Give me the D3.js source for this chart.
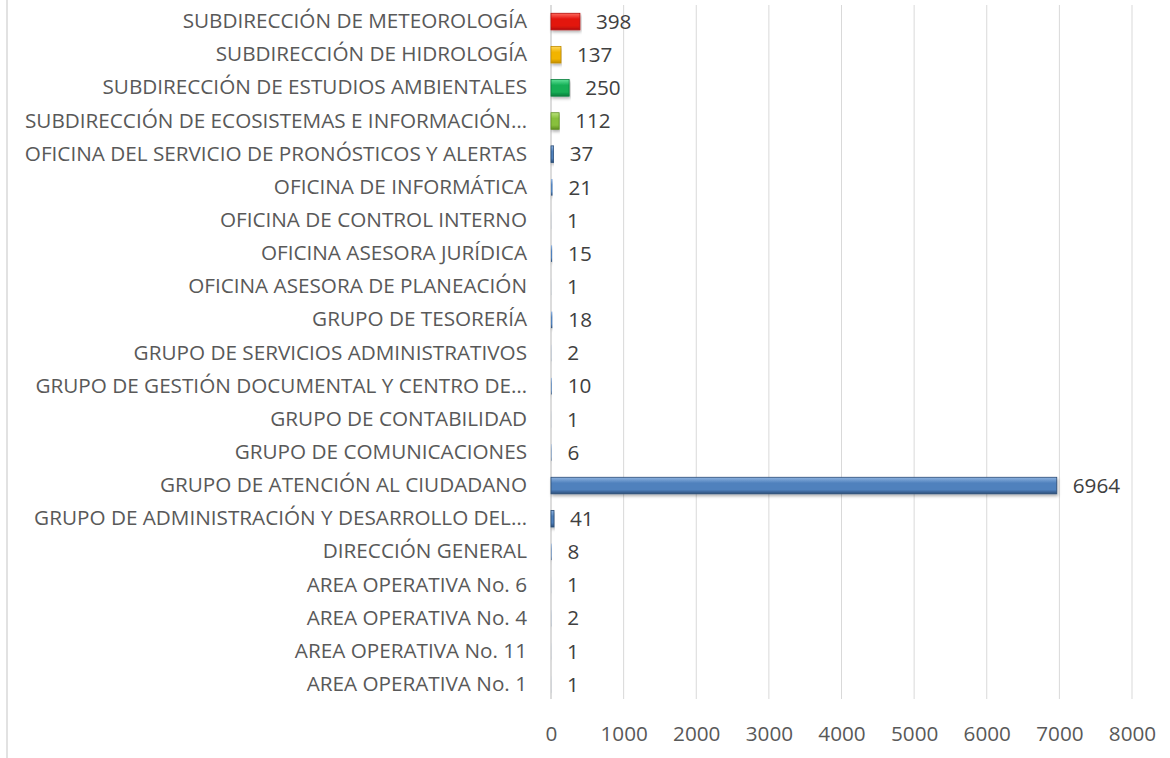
<!DOCTYPE html>
<html>
<head>
<meta charset="utf-8">
<script src="https://cdn.jsdelivr.net/npm/d3@7"></script>
<style>
  body { margin: 0; background: #fff; }
  svg { display: block; font-family: "Open Sans", sans-serif; }
</style>
</head>
<body>
<script>
// categories, top to bottom as drawn
var categories = [
  'SUBDIRECCIÓN DE METEOROLOGÍA',
  'SUBDIRECCIÓN DE HIDROLOGÍA',
  'SUBDIRECCIÓN DE ESTUDIOS AMBIENTALES',
  'SUBDIRECCIÓN DE ECOSISTEMAS E INFORMACIÓN…',
  'OFICINA DEL SERVICIO DE PRONÓSTICOS Y ALERTAS',
  'OFICINA DE INFORMÁTICA',
  'OFICINA DE CONTROL INTERNO',
  'OFICINA ASESORA JURÍDICA',
  'OFICINA ASESORA DE PLANEACIÓN',
  'GRUPO DE TESORERÍA',
  'GRUPO DE SERVICIOS ADMINISTRATIVOS',
  'GRUPO DE GESTIÓN DOCUMENTAL Y CENTRO DE…',
  'GRUPO DE CONTABILIDAD',
  'GRUPO DE COMUNICACIONES',
  'GRUPO DE ATENCIÓN AL CIUDADANO',
  'GRUPO DE ADMINISTRACIÓN Y DESARROLLO DEL…',
  'DIRECCIÓN GENERAL',
  'AREA OPERATIVA No. 6',
  'AREA OPERATIVA No. 4',
  'AREA OPERATIVA No. 11',
  'AREA OPERATIVA No. 1'
];
var values = [398, 137, 250, 112, 37, 21, 1, 15, 1, 18, 2, 10, 1, 6, 6964, 41, 8, 1, 2, 1, 1];
var barColors = ['red', 'gold', 'green', 'lime', 'blue', 'blue', 'blue', 'blue', 'blue', 'blue',
  'blue', 'blue', 'blue', 'blue', 'blue', 'blue', 'blue', 'blue', 'blue', 'blue', 'blue'];
var xTicks = [0, 1000, 2000, 3000, 4000, 5000, 6000, 7000, 8000];

var palette = {
  red: ['#ff6a5e', '#e3150f', '#b40f0a'],
  gold: ['#ffd75a', '#f2b400', '#c28e00'],
  green: ['#5fe098', '#14ae55', '#0b7e3c'],
  lime: ['#b8e27a', '#88c03c', '#5f8f22'],
  blue: ['#8fb3e0', '#4f81bd', '#2c4e78']
};

var width = 1170, height = 758;
var plotLeft = 551, plotRight = 1132, plotTop = 5, plotBottom = 701;
var fontSize = 20.7;

var svg = d3.select('body').append('svg')
  .attr('width', width).attr('height', height);

var defs = svg.append('defs');
Object.keys(palette).forEach(function (k) {
  var g = defs.append('linearGradient').attr('id', 'grad-' + k)
    .attr('x1', 0).attr('y1', 0).attr('x2', 0).attr('y2', 1);
  g.append('stop').attr('offset', '0%').attr('stop-color', palette[k][0]);
  g.append('stop').attr('offset', '35%').attr('stop-color', palette[k][1]);
  g.append('stop').attr('offset', '75%').attr('stop-color', palette[k][1]);
  g.append('stop').attr('offset', '100%').attr('stop-color', palette[k][2]);
});
var shadow = defs.append('filter').attr('id', 'shadow')
  .attr('x', '-5%').attr('y', '-30%').attr('width', '110%').attr('height', '180%');
shadow.append('feDropShadow').attr('dx', 1).attr('dy', 2).attr('stdDeviation', 1.5)
  .attr('flood-color', '#000').attr('flood-opacity', 0.3);

// chart frame edge on the left
svg.append('line')
  .attr('x1', 7).attr('x2', 7).attr('y1', 0).attr('y2', height)
  .attr('stroke', '#d9d9d9').attr('stroke-width', 1.5);

var x = d3.scaleLinear().domain([0, 8000]).range([plotLeft, plotRight]);
var y = d3.scaleBand().domain(categories).range([plotTop, plotBottom]).paddingInner(0.5).paddingOuter(0.25);

// gridlines
svg.append('g').selectAll('line').data(xTicks.slice(1)).enter().append('line')
  .attr('x1', function (d) { return x(d); }).attr('x2', function (d) { return x(d); })
  .attr('y1', plotTop).attr('y2', plotBottom - 2)
  .attr('stroke', '#d9d9d9').attr('stroke-width', 1);

// category axis line
svg.append('line')
  .attr('x1', plotLeft).attr('x2', plotLeft).attr('y1', plotTop).attr('y2', plotBottom - 2)
  .attr('stroke', '#d0d0d0').attr('stroke-width', 1.5);

// x axis tick labels
var xAxis = d3.axisBottom(x).tickValues(xTicks).tickSize(0).tickPadding(0)
  .tickFormat(d3.format('d'));
var xAxisEl = svg.append('g').attr('transform', 'translate(0,' + 726 + ')').call(xAxis);
xAxisEl.select('.domain').remove();
xAxisEl.selectAll('text')
  .attr('fill', '#595959').style('font-size', fontSize + 'px').style('font-family', '"Open Sans", sans-serif');

// y axis labels
var yAxis = d3.axisLeft(y).tickSize(0).tickPadding(24);
var yAxisEl = svg.append('g').attr('transform', 'translate(' + plotLeft + ',0)').call(yAxis);
yAxisEl.select('.domain').remove();
yAxisEl.selectAll('text')
  .attr('fill', '#595959').style('font-size', fontSize + 'px').style('font-family', '"Open Sans", sans-serif');

// bars (thin ones get no outline, like the reference)
svg.append('g').selectAll('rect').data(categories).enter().append('rect')
  .attr('x', x(0))
  .attr('y', function (d) { return y(d); })
  .attr('width', function (d, i) { return Math.max(0, x(values[i]) - x(0)); })
  .attr('height', y.bandwidth())
  .attr('fill', function (d, i) { return 'url(#grad-' + barColors[i] + ')'; })
  .attr('stroke', function (d, i) {
    return x(values[i]) - x(0) < 2.5 ? 'none' : palette[barColors[i]][2];
  })
  .attr('stroke-width', 0.8)
  .attr('filter', 'url(#shadow)');

// value labels
svg.append('g').selectAll('text').data(categories).enter().append('text')
  .attr('x', function (d, i) { return x(values[i]) + 16; })
  .attr('y', function (d) { return y(d) + y.bandwidth() / 2; })
  .attr('dy', '0.35em')
  .attr('fill', '#404040')
  .style('font-size', fontSize + 'px')
  .text(function (d, i) { return values[i]; });
</script>
</body>
</html>
